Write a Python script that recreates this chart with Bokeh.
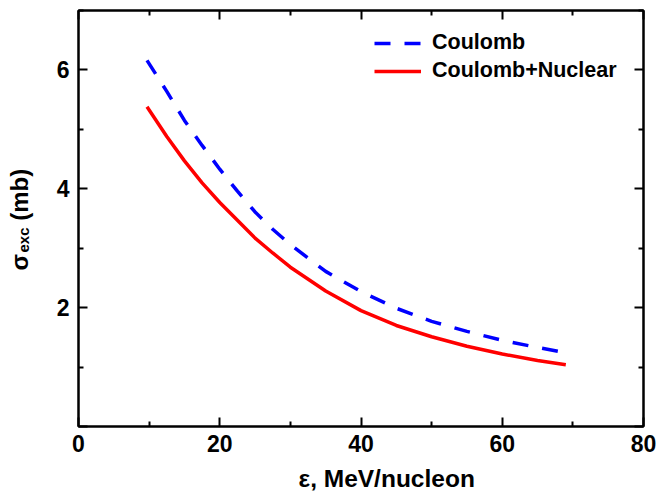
import math
from bokeh.plotting import figure
from bokeh.models import (Range1d, FixedTicker, LinearAxis, Label, Legend, LegendItem)
from bokeh.embed import file_html
from bokeh.resources import INLINE

# Data
energy = [9.7, 12.5, 15, 17.5, 20, 22.5, 25, 27.5, 30, 35, 40, 45, 50, 55, 60, 65, 69]
coulomb = [6.16, 5.64, 5.15, 4.73, 4.33, 3.96, 3.61, 3.32, 3.06, 2.61, 2.27, 1.99,
           1.77, 1.60, 1.45, 1.33, 1.24]
coul_nuc = [5.38, 4.88, 4.47, 4.10, 3.77, 3.47, 3.17, 2.92, 2.68, 2.28, 1.95, 1.70,
            1.51, 1.35, 1.22, 1.11, 1.04]
x_ticks = [0, 20, 40, 60, 80]
x_minor = [10, 30, 50, 70]
y_ticks = [0, 2, 4, 6]
y_minor = [1, 3, 5, 7]
labels = ["Coulomb", "Coulomb+Nuclear"]

FONT = "Liberation Sans"

p = figure(width=658, height=493, output_backend="svg", toolbar_location=None,
           x_range=Range1d(0, 80), y_range=Range1d(0, 7),
           min_border_left=78, min_border_right=15, min_border_top=10,
           min_border_bottom=67, x_axis_location=None, y_axis_location=None)
p.grid.visible = False
p.outline_line_color = "black"
p.outline_line_width = 2
p.background_fill_color = "white"
p.border_fill_color = "white"


def style_axis(ax, ticks, minor, show_labels):
    ax.ticker = FixedTicker(ticks=ticks, minor_ticks=minor)
    ax.axis_line_width = 2
    ax.major_tick_line_width = 2
    ax.minor_tick_line_width = 2
    ax.major_tick_in = 9
    ax.major_tick_out = 0
    ax.minor_tick_in = 5
    ax.minor_tick_out = 0
    ax.major_label_text_font = FONT
    ax.major_label_text_font_style = "bold"
    ax.major_label_text_font_size = "23px"
    ax.major_label_text_color = "black"
    if not show_labels:
        ax.major_label_overrides = {t: "" for t in ticks}
        ax.major_label_standoff = 0


xb = LinearAxis()
style_axis(xb, x_ticks, x_minor, True)
xb.major_label_standoff = 8
p.add_layout(xb, "below")

yl = LinearAxis()
style_axis(yl, y_ticks, y_minor, True)
yl.major_label_standoff = 9
yl.major_label_overrides = {0: ""}
p.add_layout(yl, "left")

xt = LinearAxis()
style_axis(xt, x_ticks, x_minor, False)
p.add_layout(xt, "above")

yr = LinearAxis()
style_axis(yr, y_ticks, y_minor, False)
p.add_layout(yr, "right")

r1 = p.line(energy, coulomb, line_color="#0000ff", line_width=3.5, line_dash="16 14")
r2 = p.line(energy, coul_nuc, line_color="#ff0000", line_width=3.5)

legend = Legend(items=[LegendItem(label=labels[0], renderers=[r1]),
                       LegendItem(label=labels[1], renderers=[r2])],
                location=(296, 343), padding=0, margin=0, spacing=3,
                glyph_width=47, glyph_height=22, label_height=22,
                label_standoff=11,
                label_text_font=FONT, label_text_font_style="bold",
                label_text_font_size="21.5px", label_text_color="black",
                border_line_color=None, background_fill_alpha=0)
p.add_layout(legend, "center")

# x-axis title (below side panel)
p.add_layout(Label(x=220, y=3, x_units="screen", y_units="screen",
                   text="ε, MeV/nucleon", text_align="left",
                   text_baseline="alphabetic", text_color="black",
                   text_font=FONT, text_font_style="bold",
                   text_font_size="24.5px"), "below")

# y-axis title: sigma with subscript (left side panels)
ang = math.pi / 2
p.add_layout(Label(x=-7, y=156, x_units="screen", y_units="screen", angle=ang,
                   text="σ\u00a0\u00a0\u00a0\u00a0\u00a0(mb)", text_align="left",
                   text_baseline="alphabetic", text_color="black",
                   text_font=FONT, text_font_style="bold", text_font_size="24px"), "left")
p.add_layout(Label(x=14, y=174, x_units="screen", y_units="screen", angle=ang,
                   text="exc", text_align="left", text_baseline="alphabetic",
                   text_color="black",
                   text_font=FONT, text_font_style="bold", text_font_size="15px"), "left")

open("out.html", "w").write(file_html(p, INLINE))
